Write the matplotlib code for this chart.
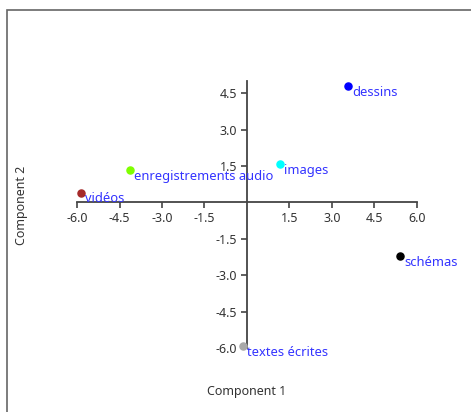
import matplotlib
matplotlib.use("Agg")
import matplotlib.pyplot as plt
from matplotlib.patches import Rectangle

plt.rcParams['font.family'] = ['Noto Sans', 'DejaVu Sans']

# data
labels = ["dessins", "images", "enregistrements audio", "vidéos", "schémas", "textes écrites"]
comp1 = [3.58, 1.16, -4.13, -5.87, 5.40, -0.15]
comp2 = [4.80, 1.56, 1.33, 0.40, -2.21, -5.91]
colors = ["#0000ff", "#00ffff", "#7fff00", "#a52a2a", "#000000", "#a9a9a9"]
xticks = [-6.0, -4.5, -3.0, -1.5, 1.5, 3.0, 4.5, 6.0]
yticks = [-6.0, -4.5, -3.0, -1.5, 1.5, 3.0, 4.5]

fig = plt.figure(figsize=(4.71, 4.12), dpi=100)
# outer frame
fig.patches.append(Rectangle((7/471, -0.1), 1.2, 1 - 10/412 + 0.1, transform=fig.transFigure,
                             fill=False, edgecolor="#666666", lw=1.2))

ax = fig.add_axes([77/471, (412-348)/412, 340/471, 267/412])
ax.set_xlim(-6, 6)
ax.set_ylim(-6, 5)

for s in ["top", "right"]:
    ax.spines[s].set_visible(False)
ax.spines["left"].set_position(("data", 0))
ax.spines["bottom"].set_position(("data", 0))
for s in ["left", "bottom"]:
    ax.spines[s].set_color("#444444")
    ax.spines[s].set_linewidth(1.3)

ax.set_xticks(xticks)
ax.set_yticks(yticks)
ax.set_xticklabels([f"{v:.1f}" for v in xticks])
ax.set_yticklabels([f"{v:.1f}" for v in yticks])
ax.tick_params(direction="out", length=4, width=1.2, color="#444444",
               labelsize=9, labelcolor="#333333", pad=3)

for x, y, c, t in zip(comp1, comp2, colors, labels):
    ax.scatter(x, y, s=26, color=c, zorder=3, clip_on=False)
    ax.annotate(t, (x, y), xytext=(3, -4.5), textcoords="offset points",
                color="#3333ff", fontsize=9.3, va="center", ha="left",
                annotation_clip=False)

fig.text(247/471, 1 - 392/412, "Component 1", ha="center", va="center",
         fontsize=9, color="#333333")
fig.text(22/471, 1 - 205/412, "Component 2", ha="center", va="center",
         fontsize=9, color="#333333", rotation=90)

fig.savefig("out.png", dpi=100)
